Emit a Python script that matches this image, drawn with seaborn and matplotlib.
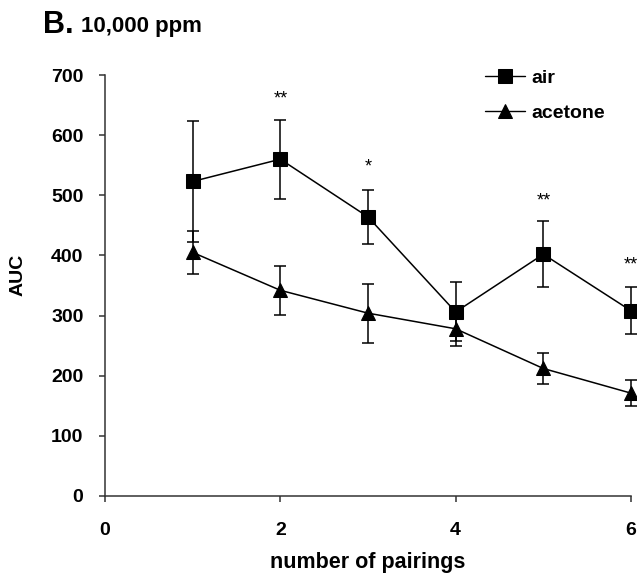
import matplotlib
matplotlib.use('Agg')
import matplotlib.pyplot as plt
import seaborn as sns
import pandas as pd

# ── data ──
pairings = [1, 2, 3, 4, 5, 6]
air_mean = [523, 560, 464, 306, 402, 308]
air_sem = [100, 66, 45, 49, 55, 39]
acetone_mean = [405, 342, 304, 278, 212, 171]
acetone_sem = [36, 41, 49, 28, 26, 22]

star_x = [2, 3, 5, 6]
star_y = [660, 547, 490, 384]
star_txt = ['**', '*', '**', '**']

yticks = [0, 100, 200, 300, 400, 500, 600, 700]
xticks = [0, 2, 4, 6]

df = pd.DataFrame({
    'pairings': pairings * 2,
    'AUC': air_mean + acetone_mean,
    'group': ['air'] * len(pairings) + ['acetone'] * len(pairings),
})

sns.set_style('white')
plt.rcParams['font.family'] = ['Liberation Sans', 'DejaVu Sans']
plt.rcParams['text.color'] = 'black'
plt.rcParams['axes.labelcolor'] = 'black'
plt.rcParams['xtick.color'] = 'black'
plt.rcParams['ytick.color'] = 'black'

fig = plt.figure(figsize=(6.37, 5.77), dpi=100)
ax = fig.add_axes([105 / 637, 81 / 577, 526 / 637, 421 / 577])

# error bars first so markers sit on top
ax.errorbar(pairings, air_mean, yerr=air_sem, fmt='none', ecolor='black',
            elinewidth=1.1, capsize=4.5, capthick=1.1, clip_on=False, zorder=2)
ax.errorbar(pairings, acetone_mean, yerr=acetone_sem, fmt='none', ecolor='black',
            elinewidth=1.1, capsize=4.5, capthick=1.1, clip_on=False, zorder=2)

sns.lineplot(data=df, x='pairings', y='AUC', style='group', markers={'air': 's', 'acetone': '^'},
             dashes=False, color='black', markersize=10.5, linewidth=1.1,
             markeredgecolor='black', ax=ax, clip_on=False, zorder=3)

for x, y, t in zip(star_x, star_y, star_txt):
    ax.text(x, y, t, ha='center', va='center', fontsize=13, clip_on=False)

ax.set_xlim(0, 6)
ax.set_ylim(0, 700)
ax.set_xticks(xticks)
ax.set_yticks(yticks)
ax.tick_params(axis='both', direction='out', length=4.5, width=1.1, labelsize=14,
               color='#333333', left=True, bottom=True)
ax.tick_params(axis='x', pad=14)
ax.tick_params(axis='y', pad=11)
for lab in ax.get_xticklabels() + ax.get_yticklabels():
    lab.set_fontweight('bold')

for side in ['top', 'right']:
    ax.spines[side].set_visible(False)
for side in ['left', 'bottom']:
    ax.spines[side].set_color('#333333')
    ax.spines[side].set_linewidth(1.1)

ax.set_xlabel('number of pairings', fontsize=15.5, fontweight='bold')
ax.set_ylabel('AUC', fontsize=14, fontweight='bold')
ax.xaxis.set_label_coords(0.5, -0.133)
ax.yaxis.set_label_coords(-0.150, 0.525)

leg = ax.legend(loc='upper left', bbox_to_anchor=(0.722, 1.014), frameon=False,
                borderpad=0, borderaxespad=0, handlelength=2.06, handletextpad=0.36,
                labelspacing=0.9, prop={'weight': 'bold', 'size': 14})
for h in leg.legend_handles:
    h.set_markersize(10.5)
    h.set_linewidth(1.0)

fig.text(43 / 637, 1 - 33 / 577, 'B.', fontsize=22, fontweight='bold', va='baseline')
fig.text(81 / 637, 1 - 32 / 577, '10,000 ppm', fontsize=16, fontweight='bold', va='baseline')

fig.savefig('out.png', dpi=100)
